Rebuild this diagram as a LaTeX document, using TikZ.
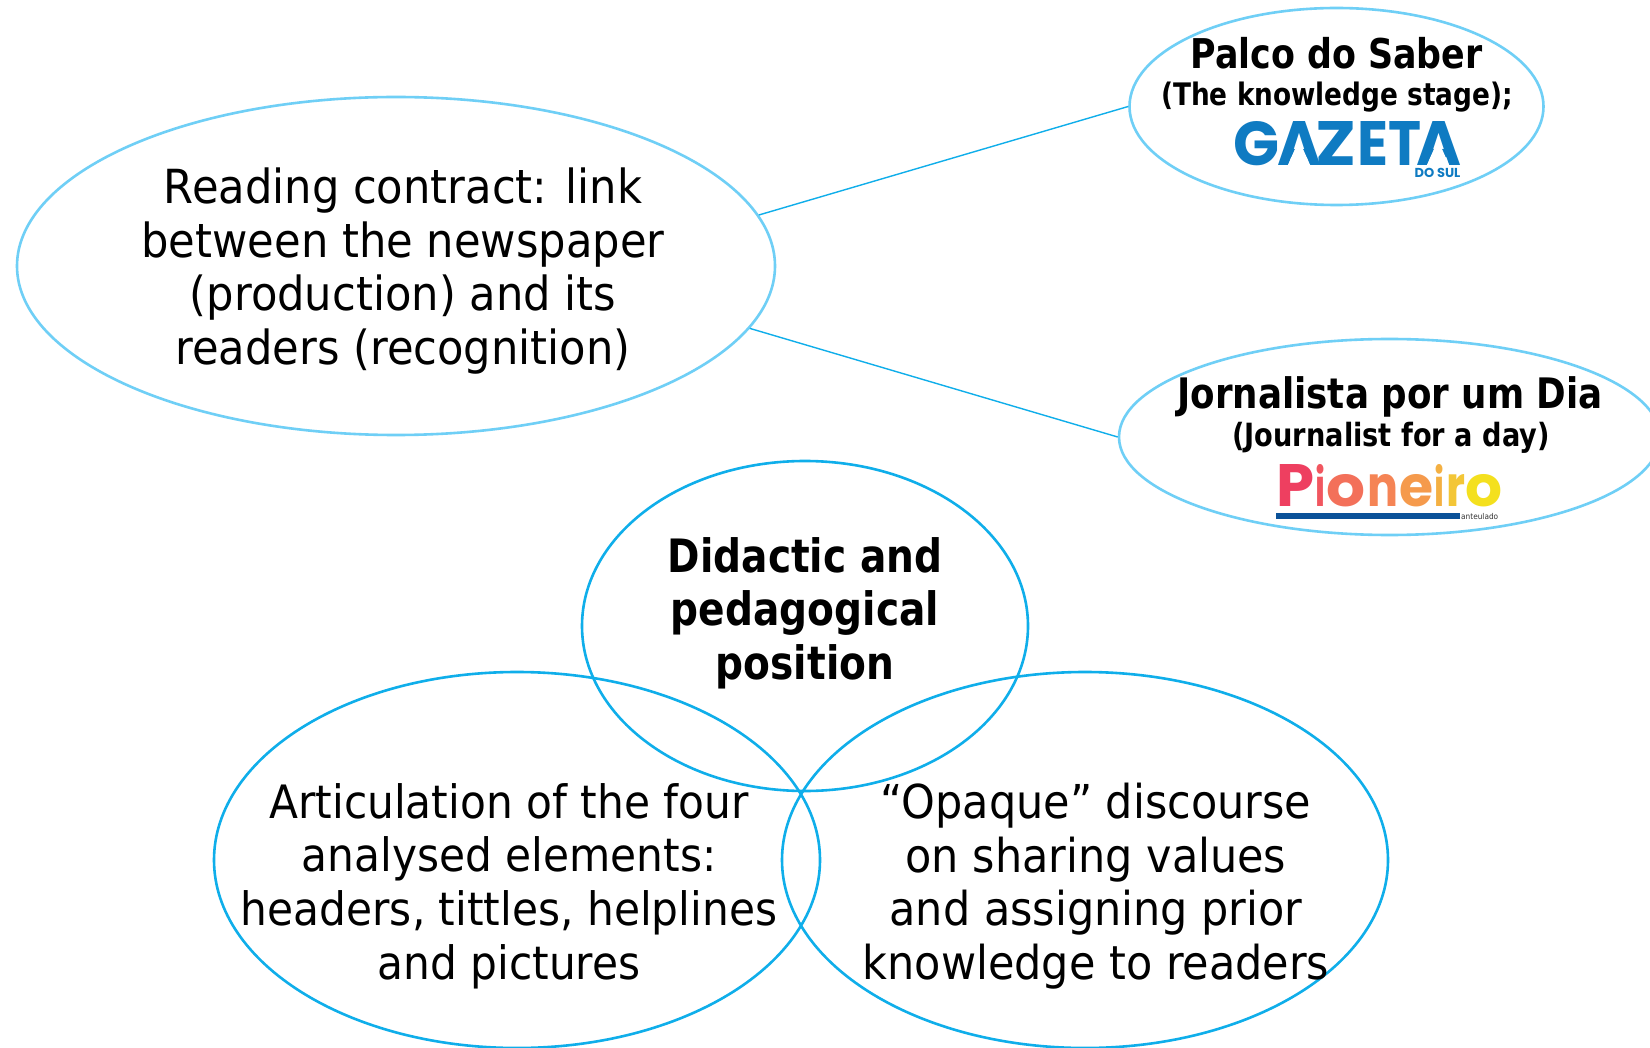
\documentclass[tikz,border=0pt]{standalone}
\usepackage{fontspec}
\usepackage{graphicx}
\usetikzlibrary{shapes.geometric}
\setmainfont[FakeStretch=0.92]{DejaVu Sans}
\newfontfamily\heavyfont[FakeStretch=0.85]{DejaVu Sans}
\newfontfamily\logofont{Poppins}
\definecolor{lightblue}{HTML}{6FCFF6}
\definecolor{midblue}{HTML}{0FAEEA}
\definecolor{gazblue}{HTML}{0F7BC2}
\definecolor{barblue}{HTML}{0B5299}
\newcommand{\gl}[2]{\resizebox{#1pt}{44pt}{#2}}
\newcommand{\pl}[4]{\textcolor[HTML]{#4}{\resizebox{#1pt}{#2pt}{#3}}}
\tikzset{
  x=1pt,y=-1pt,
  lightell/.style={ellipse,draw=lightblue,line width=2.6pt,inner sep=0pt,fill=none},
  midell/.style={ellipse,draw=midblue,line width=2.6pt,inner sep=0pt,fill=none},
  link/.style={draw=midblue,line width=1.4pt},
  bigtext/.style={align=center,font=\fontsize{47}{53.6}\selectfont,inner sep=0pt,text=black},
  boldtext/.style={align=center,font=\heavyfont\bfseries\fontsize{46}{53.6}\selectfont,inner sep=0pt,text=black},
  headtext/.style={font=\heavyfont\bfseries\fontsize{41}{44}\selectfont,inner sep=0pt,text=black},
  subtext/.style={font=\heavyfont\bfseries\fontsize{31}{36}\selectfont,inner sep=0pt,text=black},
  cutout/.style={fill=white,draw=none},
}
\begin{document}
\begin{tikzpicture}
\path[use as bounding box] (0,0) rectangle (1650,1048);
\clip (0,0) rectangle (1650,1048);
\fill[white] (0,0) rectangle (1650,1048);
\node[lightell,minimum width=758pt,minimum height=338pt] (big) at (396,266) {};
\node[lightell,minimum width=414pt,minimum height=197pt] (palco) at (1336.5,106.5) {};
\node[lightell,minimum width=541pt,minimum height=196pt] (jorn) at (1389.5,437) {};
\node[midell,minimum width=446pt,minimum height=330pt] (did) at (805,626) {};
\node[midell,minimum width=606pt,minimum height=376pt] (art) at (517,860) {};
\node[midell,minimum width=606pt,minimum height=376pt] (opa) at (1085,860) {};
\draw[link] (big.8.0) -- (palco.west);
\draw[link] (big.-10.1) -- (jorn.west);
\node[bigtext] (bigt) at (403,271) {Reading contract: link\\between the newspaper\\(production) and its\\readers (recognition)};
\node[boldtext] (didt) at (805,613) {Didactic and\\pedagogical\\position};
\node[bigtext,font=\fontsize{46}{53.6}\selectfont] (artt) at (509,886) {Articulation of the four\\analysed elements:\\headers, tittles, helplines\\and pictures};
\node[bigtext,font=\fontsize{46.7}{53.6}\selectfont] (opat) at (1096,886) {“Opaque” discourse\\on sharing values\\and assigning prior\\knowledge to readers};
\node[headtext] (palt) at (1336.5,53) {Palco do Saber};
\node[subtext] (pals) at (1337,97) {(The knowledge stage);};
\node[headtext,font=\heavyfont\bfseries\fontsize{42}{44}\selectfont] (jort) at (1390,397) {Jornalista por um Dia};
\node[subtext,font=\heavyfont\bfseries\fontsize{32}{36}\selectfont] (jors) at (1391,438) {(Journalist for a day)};
% Gazeta logo
\node[inner sep=0pt,text=gazblue,anchor=west,font=\logofont\bfseries] (gaz) at (1233,144) {\gl{46}{G}\hspace{-2pt}\gl{44}{A}\hspace{-6pt}\gl{41}{Z}\hspace{1pt}\gl{31}{E}\gl{33}{T}\hspace{-5pt}\gl{45}{A}};
\fill[cutout] (1299,140) -- (1287,167) -- (1311,167) -- cycle;
\fill[cutout] (1438,140) -- (1426,167) -- (1450,167) -- cycle;
\node[inner sep=0pt,text=gazblue,font=\logofont\bfseries\fontsize{13}{13}\selectfont] (dosul) at (1437.5,173) {DO SUL};
% Pioneiro logo
\node[inner sep=0pt,anchor=south west,font=\logofont\bfseries] (pio) at (1276,507) {\pl{38}{42}{P}{EE3F60}\hspace{1pt}\pl{10}{42}{i}{F1565F}\hspace{1pt}\pl{39}{32}{o}{F3705A}\hspace{2pt}\pl{31}{32}{n}{F58455}\hspace{1pt}\pl{34}{32}{e}{F59A4C}\hspace{1pt}\pl{10}{42}{i}{F4B042}\hspace{2pt}\pl{19}{32}{r}{F3C637}\hspace{0pt}\pl{37}{32}{o}{F4E01E}};
\fill[barblue] (1276,513) rectangle (1460,518.5);
\begin{scope}
\clip (1460,510) rectangle (1500,519);
\node[inner sep=0pt,anchor=west,text=black!80,font=\fontsize{8}{8}\selectfont] (ant) at (1461,517) {anteulado};
\end{scope}
\end{tikzpicture}
\end{document}
